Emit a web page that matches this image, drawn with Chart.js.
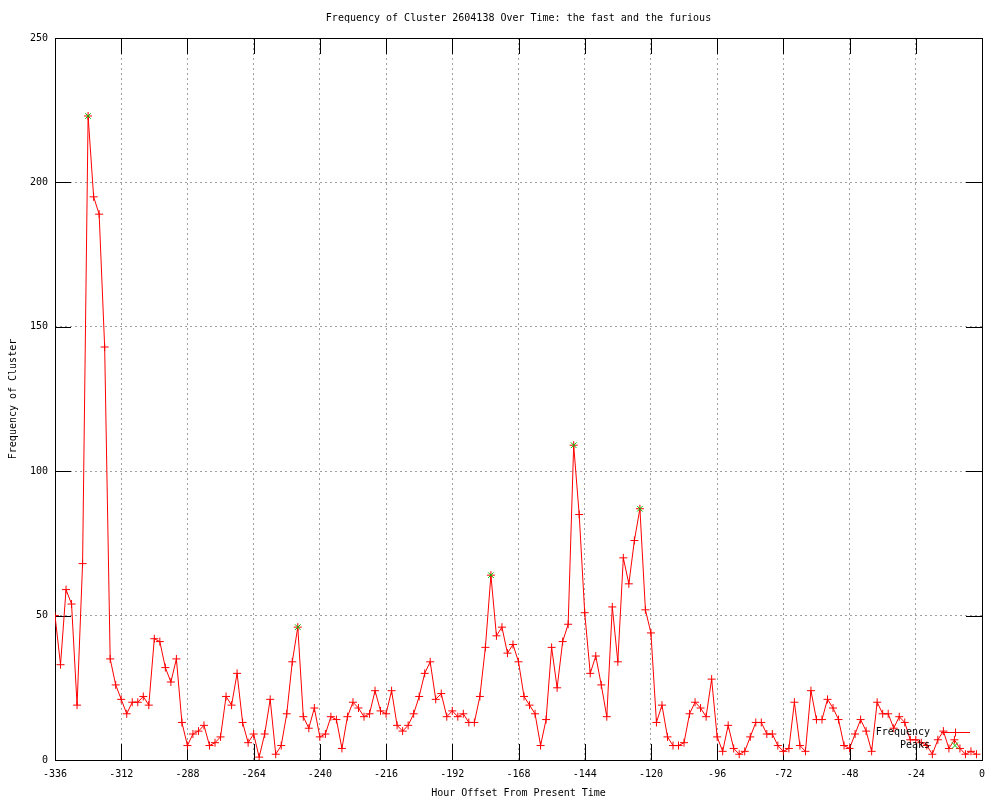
<!DOCTYPE html>
<html><head><meta charset="utf-8">
<script src="https://cdn.jsdelivr.net/npm/chart.js@4/dist/chart.umd.min.js"></script>
<style>html,body{margin:0;padding:0;background:#fff}canvas{display:block}</style>
</head><body>
<canvas id="c" width="1000" height="800"></canvas>
<script>
const hours = [
 -336,-334,-332,-330,-328,-326,-324,-322,-320,-318,
 -316,-314,-312,-310,-308,-306,-304,-302,-300,-298,
 -296,-294,-292,-290,-288,-286,-284,-282,-280,-278,
 -276,-274,-272,-270,-268,-266,-264,-262,-260,-258,
 -256,-254,-252,-250,-248,-246,-244,-242,-240,-238,
 -236,-234,-232,-230,-228,-226,-224,-222,-220,-218,
 -216,-214,-212,-210,-208,-206,-204,-202,-200,-198,
 -196,-194,-192,-190,-188,-186,-184,-182,-180,-178,
 -176,-174,-172,-170,-168,-166,-164,-162,-160,-158,
 -156,-154,-152,-150,-148,-146,-144,-142,-140,-138,
 -136,-134,-132,-130,-128,-126,-124,-122,-120,-118,
 -116,-114,-112,-110,-108,-106,-104,-102,-100,-98,
 -96,-94,-92,-90,-88,-86,-84,-82,-80,-78,
 -76,-74,-72,-70,-68,-66,-64,-62,-60,-58,
 -56,-54,-52,-50,-48,-46,-44,-42,-40,-38,
 -36,-34,-32,-30,-28,-26,-24,-22,-20,-18,
 -16,-14,-12,-10,-8,-6,-4,-2
];
const frequency = [
 50,33,59,54,19,68,223,195,189,143,
 35,26,21,16,20,20,22,19,42,41,
 32,27,35,13,5,9,10,12,5,6,
 8,22,19,30,13,6,9,1,9,21,
 2,5,16,34,46,15,11,18,8,9,
 15,14,4,15,20,18,15,16,24,17,
 16,24,12,10,12,16,22,30,34,21,
 23,15,17,15,16,13,13,22,39,64,
 43,46,37,40,34,22,19,16,5,14,
 39,25,41,47,109,85,51,30,36,26,
 15,53,34,70,61,76,87,52,44,13,
 19,8,5,5,6,16,20,18,15,28,
 8,3,12,4,2,3,8,13,13,9,
 9,5,3,4,20,5,3,24,14,14,
 21,18,14,5,4,9,14,10,3,20,
 16,16,11,15,13,7,7,6,5,2,
 7,10,4,7,4,2,3,2
];
const peakHours = [-324,-248,-178,-148,-124];
const peakValues = [223,46,64,109,87];
const xTickStep = 24, xMin = -336, xMax = 0;
const yTickStep = 50, yMin = 0, yMax = 250;

const FONT = '"DejaVu Sans Mono", "Liberation Mono", monospace';
const RED = '#ff0000', GREEN = '#00c000';

const framePlugin = {
  id: 'frame',
  beforeDatasetsDraw(chart) {
    const {ctx, chartArea: a, scales: {x, y}} = chart;
    const T = 16;
    ctx.save();
    ctx.strokeStyle = '#000';
    ctx.lineWidth = 1;
    ctx.beginPath();
    x.ticks.forEach(t => {
      const p = Math.round(x.getPixelForValue(t.value)) + 0.5;
      ctx.moveTo(p, a.bottom); ctx.lineTo(p, a.bottom - T);
      ctx.moveTo(p, a.top); ctx.lineTo(p, a.top + T);
    });
    y.ticks.forEach(t => {
      const p = Math.round(y.getPixelForValue(t.value)) + 0.5;
      ctx.moveTo(a.left, p); ctx.lineTo(a.left + T, p);
      ctx.moveTo(a.right, p); ctx.lineTo(a.right - T, p);
    });
    ctx.stroke();
    ctx.strokeRect(Math.round(a.left) + 0.5, Math.round(a.top) + 0.5,
                   Math.round(a.right - a.left), Math.round(a.bottom - a.top));
    ctx.restore();
  },
  afterDraw(chart) {
    const ctx = chart.ctx;
    ctx.save();
    ctx.font = '10px ' + FONT;
    ctx.fillStyle = '#000';
    ctx.textAlign = 'right';
    ctx.textBaseline = 'middle';
    const ds = chart.data.datasets;
    // Frequency entry
    let yy = 732.5;
    ctx.fillText(ds[0].label, 930, yy);
    ctx.strokeStyle = RED; ctx.lineWidth = 1;
    ctx.beginPath();
    ctx.moveTo(941, yy); ctx.lineTo(970, yy);
    ctx.moveTo(955.5, yy - 4); ctx.lineTo(955.5, yy + 4);
    ctx.stroke();
    // Peaks entry
    yy = 745.5;
    ctx.fillText(ds[1].label, 930, yy);
    ctx.strokeStyle = GREEN;
    ctx.beginPath();
    ctx.moveTo(952, yy - 3); ctx.lineTo(958, yy + 3);
    ctx.moveTo(958, yy - 3); ctx.lineTo(952, yy + 3);
    ctx.stroke();
    ctx.restore();
  }
};

new Chart(document.getElementById('c'), {
  type: 'line',
  data: {
    datasets: [
      {
        label: 'Frequency',
        data: hours.map((h, i) => ({x: h, y: frequency[i]})),
        borderColor: RED,
        backgroundColor: RED,
        borderWidth: 1,
        pointStyle: 'cross',
        pointRadius: 4,
        pointBorderWidth: 1,
        pointBorderColor: RED,
        tension: 0,
        fill: false,
        order: 2
      },
      {
        label: 'Peaks',
        data: peakHours.map((h, i) => ({x: h, y: peakValues[i]})),
        showLine: false,
        borderColor: GREEN,
        backgroundColor: GREEN,
        pointStyle: 'crossRot',
        pointRadius: 4,
        pointBorderWidth: 1,
        pointBorderColor: GREEN,
        order: 1
      }
    ]
  },
  options: {
    responsive: false,
    animation: false,
    devicePixelRatio: 1,
    layout: {padding: {left: 0, right: 18, top: 0, bottom: 0}},
    plugins: {
      legend: {display: false},
      tooltip: {enabled: false},
      title: {
        display: true,
        fullSize: false,
        text: 'Frequency of Cluster 2604138 Over Time: the fast and the furious',
        color: '#000',
        font: {family: FONT, size: 10, weight: 'normal', lineHeight: 1.2},
        padding: {top: 12, bottom: 14}
      }
    },
    scales: {
      x: {
        type: 'linear',
        min: xMin, max: xMax,
        afterFit(s) { s.height = 40; },
        ticks: {
          stepSize: xTickStep, autoSkip: false, maxRotation: 0, padding: 8,
          color: '#000', font: {family: FONT, size: 10}
        },
        grid: {color: '#a0a0a0', lineWidth: 1, drawTicks: false},
        border: {display: false, dash: [2, 3]},
        title: {
          display: true, text: 'Hour Offset From Present Time', color: '#000',
          font: {family: FONT, size: 10, lineHeight: 1.2}, padding: {top: 0, bottom: 1}
        }
      },
      y: {
        type: 'linear',
        min: yMin, max: yMax,
        afterFit(s) { s.width = 55; },
        ticks: {
          stepSize: yTickStep, padding: 7,
          color: '#000', font: {family: FONT, size: 10}
        },
        grid: {color: '#a0a0a0', lineWidth: 1, drawTicks: false},
        border: {display: false, dash: [2, 3]},
        title: {
          display: true, text: 'Frequency of Cluster', color: '#000',
          font: {family: FONT, size: 10, lineHeight: 1.2}, padding: {top: 7, bottom: 0}
        }
      }
    }
  },
  plugins: [framePlugin]
});
</script>
</body></html>
